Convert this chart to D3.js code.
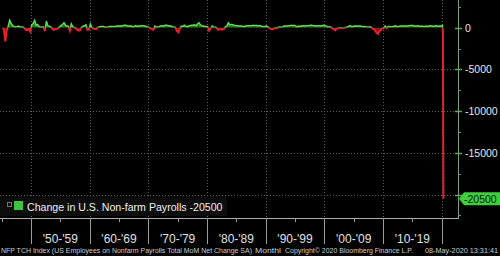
<!DOCTYPE html>
<html><head><meta charset="utf-8">
<script src="https://cdn.jsdelivr.net/npm/d3@7"></script>
<style>html,body{margin:0;padding:0;background:#000;overflow:hidden}svg{display:block}</style>
</head><body><svg id="c" width="500" height="256"></svg>
<script>
// Monthly net change in payrolls (thousands), read per quarter, 1945Q1..2019Q4
const firstYear = 1945;
const quarterly = [
  -50, -150, -1650, -300,   // 1945
  200, 900, 500, 250,       // 1946
  150, 100, 120, 200,       // 1947
  100, 80, 100, -50,        // 1948
  -250, -300, -150, -450,   // 1949
  350, 500, 900, 300,       // 1950
  400, 150, 50, 100,        // 1951
  100, -400, 800, 250,      // 1952
  150, 100, -100, -250,     // 1953
  -200, -150, -50, 100,     // 1954
  250, 400, 600, 300,       // 1955
  200, 150, -350, 450,      // 1956
  100, 50, -50, -250,       // 1957
  -350, -300, 50, 200,      // 1958
  250, 350, -250, -200,     // 1959
  450, 50, -100, -150,      // 1960
  -150, 50, 100, 150,       // 1961
  150, 150, 50, 50,         // 1962
  100, 150, 150, 150,       // 1963
  150, 150, 200, 200,       // 1964
  200, 200, 250, 300,       // 1965
  300, 250, 200, 200,       // 1966
  200, 100, 150, 250,       // 1967
  150, 200, 200, 250,       // 1968
  250, 200, 150, 100,       // 1969
  50, -100, -150, -250,     // 1970
  200, 50, 100, 150,        // 1971
  200, 250, 200, 300,       // 1972
  300, 250, 200, 200,       // 1973
  100, 100, 50, -400,       // 1974
  -550, -100, 200, 150,     // 1975
  300, 200, 100, 200,       // 1976
  250, 300, 300, 350,       // 1977
  250, 450, 600, 350,       // 1978
  250, 200, 150, 150,       // 1979
  100, -350, -100, 200,     // 1980
  100, 50, 0, -250,         // 1981
  -200, -200, -250, -150,   // 1982
  100, 200, 600, 350,       // 1983
  400, 350, 300, 250,       // 1984
  250, 200, 200, 200,       // 1985
  150, 150, 200, 250,       // 1986
  250, 250, 250, 300,       // 1987
  250, 300, 200, 250,       // 1988
  250, 150, 150, 150,       // 1989
  200, 100, -50, -150,      // 1990
  -200, -100, 0, -50,       // 1991
  50, 100, 50, 100,         // 1992
  200, 200, 200, 250,       // 1993
  250, 300, 250, 300,       // 1994
  200, 100, 200, 150,       // 1995
  200, 250, 200, 250,       // 1996
  250, 250, 300, 300,       // 1997
  250, 250, 200, 250,       // 1998
  250, 200, 250, 300,       // 1999
  250, 200, 50, 150,        // 2000
  50, -50, -200, -300,      // 2001
  -100, -50, 0, 0,          // 2002
  -50, -50, 50, 100,        // 2003
  150, 250, 150, 150,       // 2004
  200, 200, 200, 200,       // 2005
  200, 150, 150, 150,       // 2006
  100, 100, 50, 100,        // 2007
  -50, -150, -300, -600,    // 2008
  -750, -450, -250, -100,   // 2009
  -20, 200, -50, 150,       // 2010
  150, 100, 150, 150,       // 2011
  250, 100, 150, 200,       // 2012
  200, 200, 200, 200,       // 2013
  200, 250, 250, 300,       // 2014
  250, 200, 200, 250,       // 2015
  200, 150, 200, 150,       // 2016
  150, 200, 150, 200,       // 2017
  250, 200, 150, 200,       // 2018
  250, 150, 200, 200        // 2019
];
const months2020 = [1, 2, 3, 4];
const values2020 = [214, 275, -701, -20500];

const decadeStarts = [1950, 1960, 1970, 1980, 1990, 2000, 2010, 2020];
const decadeLabels = ["'50-'59", "'60-'69", "'70-'79", "'80-'89", "'90-'99", "'00-'09", "'10-'19"];
const halfDecades = [1945, 1955, 1965, 1975, 1985, 1995, 2005, 2015];
const yTicks = [0, -5000, -10000, -15000, -20000];
const yTickLabels = ["0", "-5000", "-10000", "-15000", ""];
const yMinor = [2500, -2500, -7500, -12500, -17500, -22500];
const lastValueLabel = "-20500";
const legendText = "Change in U.S. Non-farm Payrolls -20500";
const footerParts = [
  "NFP TCH Index (US Employees on Nonfarm Payrolls Total MoM Net Change SA)",
  "Monthl",
  "Copyright\u00a9 2020 Bloomberg Finance L.P.",
  "08-May-2020 13:31:41"
];

const data = quarterly.map((v, i) => ({t: firstYear + i * 0.25 + 0.125, v}))
  .concat(months2020.map((m, i) => ({t: 2020 + (m - 1) / 12 + 1 / 24, v: values2020[i]})));

const svg = d3.select("#c");
svg.append("rect").attr("width", 500).attr("height", 256).attr("fill", "#000");

const W = 458, H = 218;
const x = d3.scaleLinear().domain([1944.72, 2022.78]).range([0, W]);
const y = d3.scaleLinear().domain([3320, -22815]).range([0, H]);
const y0 = y(0);

// grid
const grid = svg.append("g").attr("stroke", "#5e5e5e").attr("stroke-width", 1).attr("stroke-dasharray", "1,2");
grid.selectAll("line.h").data(yTicks.slice(1)).join("line")
  .attr("x1", 0).attr("x2", W).attr("y1", d => Math.round(y(d)) + 0.5).attr("y2", d => Math.round(y(d)) + 0.5);
grid.selectAll("line.v").data(decadeStarts).join("line")
  .attr("x1", d => Math.round(x(d)) + 0.5).attr("x2", d => Math.round(x(d)) + 0.5)
  .attr("y1", 0).attr("y2", H);

// legend background
svg.append("rect").attr("x", 0).attr("y", 196).attr("width", 227).attr("height", 20).attr("fill", "#0d0d0d");

// data areas
const defs = svg.append("defs");
defs.append("clipPath").attr("id", "pos").append("rect").attr("x", 0).attr("y", 0).attr("width", W).attr("height", y0);
defs.append("clipPath").attr("id", "neg").append("rect").attr("x", 0).attr("y", y0).attr("width", W).attr("height", H - y0);
const area = d3.area().x(d => x(d.t)).y0(y0).y1(d => y(d.v));
const line = d3.line().x(d => x(d.t)).y(d => y(d.v));

const gPos = svg.append("g").attr("clip-path", "url(#pos)");
gPos.append("path").attr("d", area(data)).attr("fill", "#2f9f2f").attr("fill-opacity", 0.75);
gPos.append("path").attr("d", line(data)).attr("fill", "none").attr("stroke", "#5ee05e").attr("stroke-width", 1.4);
const gNeg = svg.append("g").attr("clip-path", "url(#neg)");
gNeg.append("path").attr("d", area(data)).attr("fill", "#b0101c").attr("fill-opacity", 0.85);
gNeg.append("path").attr("d", line(data)).attr("fill", "none").attr("stroke", "#e3222e").attr("stroke-width", 2);

// bottom axis
svg.append("line").attr("x1", 0).attr("x2", W).attr("y1", H + 0.5).attr("y2", H + 0.5).attr("stroke", "#b0b0b0");
svg.selectAll("line.dec").data(decadeStarts).join("line")
  .attr("x1", d => Math.round(x(d)) + 0.5).attr("x2", d => Math.round(x(d)) + 0.5)
  .attr("y1", H).attr("y2", 244).attr("stroke", "#9a9a9a");
svg.selectAll("line.half").data(halfDecades).join("line")
  .attr("x1", d => Math.round(x(d)) + 0.5).attr("x2", d => Math.round(x(d)) + 0.5)
  .attr("y1", H).attr("y2", H + 4).attr("stroke", "#9a9a9a");
svg.selectAll("text.dec").data(decadeLabels).join("text")
  .attr("x", (d, i) => x(decadeStarts[i] + 5)).attr("y", 243)
  .attr("text-anchor", "middle").attr("fill", "#e0e0e0")
  .attr("font-family", "Liberation Sans, Arial, sans-serif").attr("font-size", 12)
  .text(d => d);

// right axis
svg.append("line").attr("x1", W + 0.5).attr("x2", W + 0.5).attr("y1", 0).attr("y2", H + 1).attr("stroke", "#7f9f7f");
svg.selectAll("line.ymaj").data(yTicks).join("line")
  .attr("x1", W - 3).attr("x2", W + 4).attr("y1", d => Math.round(y(d)) + 0.5).attr("y2", d => Math.round(y(d)) + 0.5)
  .attr("stroke", "#5faa5f").attr("stroke-width", 1.5);
svg.selectAll("line.ymin").data(yMinor).join("line")
  .attr("x1", W).attr("x2", W + 3).attr("y1", d => Math.round(y(d)) + 0.5).attr("y2", d => Math.round(y(d)) + 0.5)
  .attr("stroke", "#6f8f6f");
svg.selectAll("text.yl").data(yTicks).join("text")
  .attr("x", 465).attr("y", d => y(d) + 4)
  .attr("fill", "#e8e8e8").attr("font-family", "Liberation Sans, Arial, sans-serif").attr("font-size", 10.5)
  .text((d, i) => yTickLabels[i]);

// last value tag
const ly = y(values2020[values2020.length - 1]);
svg.append("path")
  .attr("d", `M${W + 1},${ly} L${W + 6},${ly - 6.5} L500,${ly - 6.5} L500,${ly + 6.5} L${W + 6},${ly + 6.5} Z`)
  .attr("fill", "#3fcf3f");
svg.append("text").attr("x", 464).attr("y", ly + 4)
  .attr("fill", "#0a200a").attr("font-family", "Liberation Sans, Arial, sans-serif").attr("font-size", 10.5)
  .text(lastValueLabel);

// legend
svg.append("rect").attr("x", 7.5).attr("y", 202.5).attr("width", 4).attr("height", 4).attr("fill", "none").attr("stroke", "#777");
svg.append("rect").attr("x", 14).attr("y", 201).attr("width", 9).attr("height", 9).attr("fill", "#3fc43f");
svg.append("text").attr("x", 27).attr("y", 210.5)
  .attr("fill", "#f0f0f0").attr("font-family", "Liberation Sans, Arial, sans-serif").attr("font-size", 10.6)
  .text(legendText);

// footer
const fx = [1, 255, 285, 425], fw = [251, 26, 128, 73];
svg.selectAll("text.ft").data(footerParts).join("text")
  .attr("x", (d, i) => fx[i]).attr("y", 253)
  .attr("textLength", (d, i) => fw[i]).attr("lengthAdjust", "spacingAndGlyphs")
  .attr("fill", "#cfcfcf").attr("font-family", "Liberation Sans, Arial, sans-serif").attr("font-size", 7)
  .text(d => d);
</script></body></html>
